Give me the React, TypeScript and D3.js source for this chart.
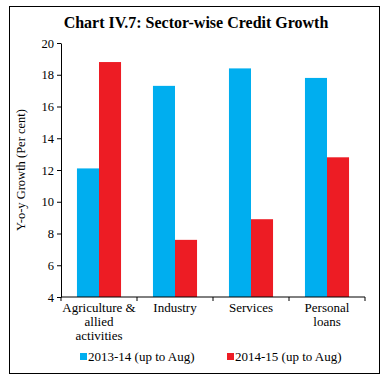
import { useEffect, useRef } from "react";
import * as d3 from "d3";

const categories = ["Agriculture & allied activities", "Industry", "Services", "Personal loans"];
const categoryLines = [["Agriculture &", "allied", "activities"], ["Industry"], ["Services"], ["Personal", "loans"]];
const series2013 = [12.1, 17.3, 18.4, 17.8];
const series2014 = [18.8, 7.6, 8.9, 12.8];
const seriesNames = ["2013-14 (up to Aug)", "2014-15 (up to Aug)"];
const yTicks = [4, 6, 8, 10, 12, 14, 16, 18, 20];

const colors = ["#00aeef", "#ed1c24"];
const font = "'Liberation Serif', serif";

export default function App() {
  const svgRef = useRef<SVGSVGElement>(null);
  const width = 387;
  const height = 384;

  useEffect(() => {
    if (!svgRef.current) return;
    const svg = d3.select(svgRef.current);
    svg.selectAll("*").remove();

    // frame
    svg.append("rect")
      .attr("x", 9.5).attr("y", 6.5)
      .attr("width", 370).attr("height", 367)
      .attr("fill", "white").attr("stroke", "#000").attr("stroke-width", 1);

    svg.append("text")
      .attr("x", 196).attr("y", 28)
      .attr("text-anchor", "middle")
      .attr("font-family", font)
      .attr("font-weight", "bold")
      .attr("font-size", "16px")
      .text("Chart IV.7: Sector-wise Credit Growth");

    const left = 61, right = 365, top = 43, bottom = 297;

    const x = d3.scaleBand<string>().domain(categories).range([left, right]).paddingInner(0.42).paddingOuter(0.21);
    const xSub = d3.scaleBand<number>().domain([0, 1]).range([0, x.bandwidth()]);
    const y = d3.scaleLinear().domain([4, 20]).range([bottom, top]);

    const g = svg.append("g");

    [series2013, series2014].forEach((vals, si) => {
      g.selectAll(`.bar${si}`)
        .data(vals)
        .enter().append("rect")
        .attr("x", (_, i) => (x(categories[i]) as number) + (xSub(si) as number))
        .attr("y", d => y(d))
        .attr("width", xSub.bandwidth())
        .attr("height", d => y(4) - y(d))
        .attr("fill", colors[si]);
    });

    // y axis
    const yAxis = g.append("g")
      .attr("transform", `translate(${left},0)`)
      .call(d3.axisLeft(y).tickValues(yTicks).tickSize(4).tickSizeOuter(0).tickFormat(d3.format("d")));
    yAxis.select(".domain").attr("stroke", "#000");
    yAxis.selectAll("text").attr("font-family", font).attr("font-size", "12.5px").attr("fill", "#000");

    // x axis with ticks at category boundaries
    const xg = g.append("g");
    xg.append("line")
      .attr("x1", left).attr("x2", right)
      .attr("y1", y(4)).attr("y2", y(4))
      .attr("stroke", "#000");
    const bounds = d3.range(categories.length + 1).map(i => left + (i * (right - left)) / categories.length);
    xg.selectAll(".xt").data(bounds).enter().append("line")
      .attr("x1", d => d).attr("x2", d => d)
      .attr("y1", y(4)).attr("y2", y(4) + 4)
      .attr("stroke", "#000");

    categories.forEach((c, i) => {
      const cx = (x(c) as number) + x.bandwidth() / 2;
      const t = xg.append("text")
        .attr("text-anchor", "middle")
        .attr("font-family", font)
        .attr("font-size", "13px")
        .attr("fill", "#000");
      categoryLines[i].forEach((line, li) => {
        t.append("tspan").attr("x", cx).attr("y", y(4) + 15 + li * 14).text(line);
      });
    });

    // y label
    svg.append("text")
      .attr("transform", `translate(25,${(top + bottom) / 2}) rotate(-90)`)
      .attr("text-anchor", "middle")
      .attr("font-family", font)
      .attr("font-size", "12.5px")
      .text("Y-o-y Growth (Per cent)");

    // legend
    const legendX = [80, 227];
    seriesNames.forEach((name, i) => {
      svg.append("rect")
        .attr("x", legendX[i]).attr("y", 353)
        .attr("width", 7).attr("height", 7)
        .attr("fill", colors[i]);
      svg.append("text")
        .attr("x", legendX[i] + 8).attr("y", 361)
        .attr("font-family", font)
        .attr("font-size", "13px")
        .text(name);
    });
  }, []);

  return (
    <svg ref={svgRef} width={width} height={height} viewBox={`0 0 ${width} ${height}`}
      style={{ position: "absolute", left: 0, top: 0 }} />
  );
}
